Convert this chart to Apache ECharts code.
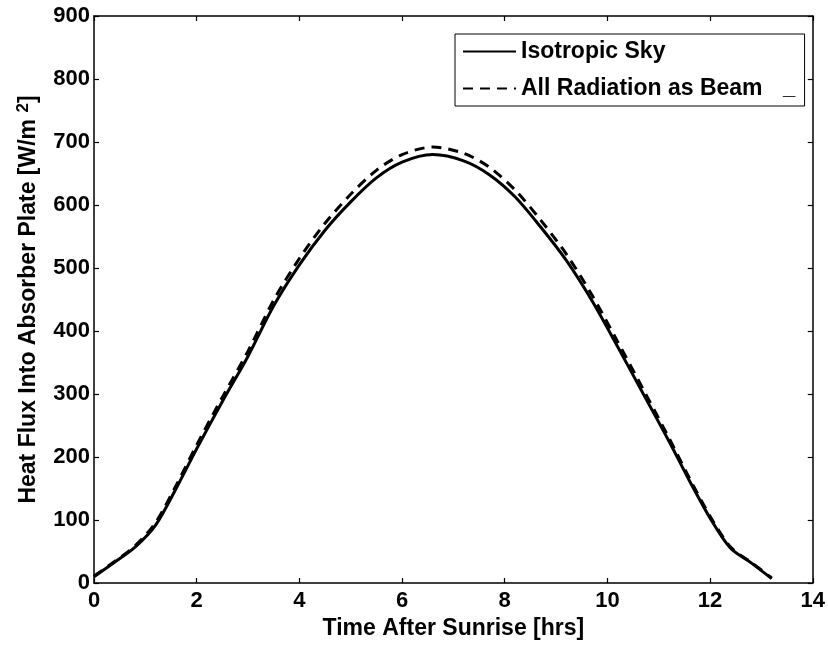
<!DOCTYPE html>
<html>
<head>
<meta charset="utf-8">
<script src="https://cdn.jsdelivr.net/npm/echarts@6/dist/echarts.min.js"></script>
<style>html,body{margin:0;padding:0;background:#fff}#c{width:828px;height:646px}</style>
</head>
<body>
<div id="c"></div>
<script>
var hours = [0, 0.4, 0.8, 1.2, 1.6, 2.0, 2.5, 3.0, 3.5, 4.0, 4.5, 5.0, 5.5, 6.0, 6.6, 7.2, 7.7, 8.2, 8.7, 9.2, 9.7, 10.2, 10.7, 11.2, 11.6, 12.0, 12.4, 12.8, 13.2];
var isotropicSky = [10, 33, 57, 92, 150, 213, 288, 360, 440, 505, 560, 605, 643, 668, 680, 670, 648, 613, 565, 512, 448, 375, 300, 225, 162, 103, 55, 32, 7];
var allBeam = [11, 34, 59, 96, 155, 219, 295, 368, 449, 515, 571, 617, 655, 680, 692, 682, 660, 624, 576, 522, 457, 383, 307, 230, 166, 106, 57, 33, 8];
var seriesNames = ['Isotropic Sky', 'All Radiation as Beam'];
var xTitle = 'Time After Sunrise [hrs]';
var yTitle = 'Heat Flux Into Absorber Plate [W/m {sup|2}]';

function pairs(xs, ys) { return xs.map(function (x, i) { return [x, ys[i]]; }); }

var font = 'Liberation Sans, Arial, Helvetica, sans-serif';
var chart = echarts.init(document.getElementById('c'));
function axisCommon() {
  return {
    axisLine: { show: true, onZero: false, lineStyle: { color: '#000', width: 1.5 } },
    axisTick: { show: true, inside: true, length: 5, lineStyle: { color: '#000', width: 1.2 } },
    splitLine: { show: false }
  };
}
chart.setOption({
  animation: false,
  backgroundColor: '#fff',
  grid: { left: 94, right: 15, top: 16, bottom: 63, containLabel: false },
  legend: {
    data: seriesNames,
    orient: 'vertical',
    left: 455, top: 34,
    itemWidth: 53, itemHeight: 14, itemGap: 14,
    padding: [6, 42, 6, 7],
    borderColor: '#000', borderWidth: 1,
    backgroundColor: '#fff',
    itemStyle: { opacity: 0 },
    textStyle: { fontFamily: font, fontWeight: 'bold', fontSize: 23, color: '#000' }
  },
  xAxis: [
    Object.assign(axisCommon(), {
      type: 'value', min: 0, max: 14, interval: 2, position: 'bottom',
      axisLabel: { color: '#000', fontFamily: font, fontWeight: 'bold', fontSize: 22, margin: 7 },
      name: xTitle, nameLocation: 'middle', nameGap: 33,
      nameTextStyle: { color: '#000', fontFamily: font, fontWeight: 'bold', fontSize: 23 }
    }),
    Object.assign(axisCommon(), {
      type: 'value', min: 0, max: 14, interval: 2, position: 'top',
      axisLabel: { show: false }
    })
  ],
  yAxis: [
    Object.assign(axisCommon(), {
      type: 'value', min: 0, max: 900, interval: 100, position: 'left',
      axisLabel: { color: '#000', fontFamily: font, fontWeight: 'bold', fontSize: 22, margin: 4 },
      name: yTitle, nameLocation: 'middle', nameGap: 52,
      nameTextStyle: {
        color: '#000', fontFamily: font, fontWeight: 'bold', fontSize: 23,
        rich: { sup: { fontFamily: font, fontWeight: 'bold', fontSize: 17, color: '#000', verticalAlign: 'top', padding: [0, 0, 10, 0] } }
      }
    }),
    Object.assign(axisCommon(), {
      type: 'value', min: 0, max: 900, interval: 100, position: 'right',
      axisLabel: { show: false }
    })
  ],
  graphic: [{
    type: 'text', left: 783, top: 77, z: 200, zlevel: 0,
    style: { text: '_', fill: '#000', font: 'bold 22px ' + font }
  }],
  series: [
    {
      name: seriesNames[0], type: 'line', xAxisIndex: 0, yAxisIndex: 0,
      data: pairs(hours, isotropicSky), showSymbol: false, symbol: 'none', smooth: 0.3,
      lineStyle: { color: '#000', width: 3, type: 'solid' }, itemStyle: { color: '#000' }
    },
    {
      name: seriesNames[1], type: 'line', xAxisIndex: 0, yAxisIndex: 0,
      data: pairs(hours, allBeam), showSymbol: false, symbol: 'none', smooth: 0.3,
      lineStyle: { color: '#000', width: 3, type: [10, 7] }, itemStyle: { color: '#000' }
    }
  ]
});
</script>
</body>
</html>
